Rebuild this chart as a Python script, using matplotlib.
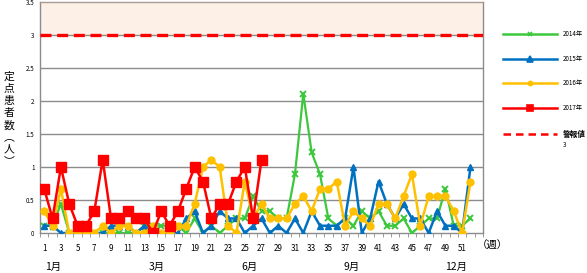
import matplotlib
matplotlib.use('Agg')
import matplotlib.pyplot as plt
from matplotlib.lines import Line2D
from matplotlib import transforms

plt.rcParams['font.family'] = ['Noto Sans CJK JP', 'DejaVu Sans']

# weekly sentinel counts (per sentinel site)
weeks = list(range(1, 53))
weeks_2017 = list(range(1, 28))

cases_2014 = [0.11, 0.11, 0.44, 0, 0, 0, 0, 0, 0, 0, 0, 0, 0.11, 0.11, 0.11, 0.11,
              0.11, 0, 0.22, 0, 0.11, 0, 0.11, 0.22, 0.22, 0.56, 0.33, 0.33, 0.22,
              0.22, 0.89, 2.11, 1.22, 0.89, 0.22, 0.11, 0.22, 0.11, 0.33, 0.22, 0.33,
              0.11, 0.11, 0.22, 0, 0.11, 0.22, 0.22, 0.67, 0.11, 0.11, 0.22]
cases_2015 = [0.11, 0.11, 0, 0, 0, 0, 0, 0, 0.11, 0.11, 0.11, 0, 0.11, 0, 0, 0,
              0, 0.22, 0.33, 0, 0.11, 0.33, 0.22, 0.22, 0, 0.11, 0.22, 0, 0.11, 0,
              0.22, 0, 0.33, 0.11, 0.11, 0.11, 0.22, 1.0, 0, 0.22, 0.78, 0.44, 0.22,
              0.44, 0.22, 0.22, 0, 0.33, 0.11, 0.11, 0, 1.0]
cases_2016 = [0.33, 0.11, 0.67, 0, 0, 0, 0, 0.11, 0, 0.11, 0.11, 0, 0, 0.11, 0, 0,
              0.11, 0.11, 0.44, 1.0, 1.11, 1.0, 0.11, 0, 0.78, 0.22, 0.44, 0.22, 0.22,
              0.22, 0.44, 0.56, 0.33, 0.67, 0.67, 0.78, 0.11, 0.33, 0.22, 0.11, 0.44,
              0.44, 0.22, 0.56, 0.89, 0.11, 0.56, 0.56, 0.56, 0.33, 0, 0.78]
cases_2017 = [0.67, 0.22, 1.0, 0.44, 0.11, 0.11, 0.33, 1.11, 0.22, 0.22, 0.33, 0.22,
              0.22, 0, 0.33, 0.11, 0.33, 0.67, 1.0, 0.78, 0.22, 0.44, 0.44, 0.78, 1.0,
              0.22, 1.11]

alert_level = 3
y_max = 3.5
n_weeks = 53

month_labels = ['1月', '3月', '6月', '9月', '12月']
month_pos = [2.1, 14.5, 25.6, 37.8, 50.3]

series_labels = ['2014年', '2015年', '2016年', '2017年']
colors = ['#3CC83C', '#0070C0', '#FFC000', '#FF0000']

W, H = 587, 273
fig = plt.figure(figsize=(W / 100, H / 100), dpi=100)
ax = fig.add_axes([40 / W, 1 - 233 / H, 443 / W, 231 / H])

# alert zone
ax.axhspan(alert_level, y_max, color='#FDF0E6', zorder=0)
for v in [0.5, 1, 1.5, 2, 2.5, 3]:
    ax.axhline(v, color='#8C8C8C', lw=1, zorder=1)

ax.plot(weeks, cases_2014, color=colors[0], lw=1.6, marker='x', ms=4,
        mew=1.4, zorder=3)
ax.plot(weeks, cases_2015, color=colors[1], lw=1.8, marker='^', ms=5,
        zorder=4)
ax.plot(weeks, cases_2016, color=colors[2], lw=1.8, marker='o', ms=5,
        zorder=5)
ax.plot(weeks_2017, cases_2017, color=colors[3], lw=1.8, marker='s', ms=7.5,
        zorder=6)
ax.axhline(alert_level, color='#FF0000', lw=2.4, ls=(0, (3.3, 1.7)), zorder=7)

ax.set_xlim(0.5, n_weeks + 0.5)
ax.set_ylim(0, y_max)
ax.set_yticks([0, 0.5, 1, 1.5, 2, 2.5, 3, 3.5])
ax.set_yticklabels(['0', '0.5', '1', '1.5', '2', '2.5', '3', '3.5'])
ax.set_xticks(list(range(1, 52, 2)))
ax.set_xticklabels([str(w) for w in range(1, 52, 2)])
ax.set_xticks([k + 0.5 for k in range(0, n_weeks + 1)], minor=True)
ax.tick_params(axis='x', which='major', length=0, pad=8, labelsize=5.8)
ax.tick_params(axis='x', which='minor', length=3, color='#8C8C8C')
ax.tick_params(axis='y', length=0, pad=4, labelsize=4.5)

for side in ['left', 'right', 'top', 'bottom']:
    ax.spines[side].set_color('#8C8C8C')
    ax.spines[side].set_linewidth(1)
ax.spines['top'].set_color('#A89C94')

trans = transforms.blended_transform_factory(ax.transData, fig.transFigure)
for lbl, pos in zip(month_labels, month_pos):
    ax.text(pos, 1 - 267 / H, lbl, transform=trans, ha='center', va='center',
            fontsize=7.5)

fig.text(492 / W, 1 - 246 / H, '（週）', ha='center', va='center', fontsize=7.5)
fig.text(9 / W, 1 - 119 / H, '定\n点\n患\n者\n数\n︵\n人\n︶', ha='center',
         va='center', fontsize=7.8, linespacing=1.25)

# legend drawn by hand on the right
leg_y = [34, 59, 83, 108]
markers = ['x', '^', 'o', 's']
msizes = [3.5, 4, 3, 5]
for y, c, m, ms, lbl in zip(leg_y, colors, markers, msizes, series_labels):
    fy = 1 - y / H
    fig.add_artist(Line2D([503 / W, 557 / W], [fy, fy], transform=fig.transFigure,
                          color=c, lw=1.8))
    fig.add_artist(Line2D([530 / W], [fy], transform=fig.transFigure, color=c,
                          marker=m, ms=ms, mew=1.2))
    fig.text(563 / W, fy, lbl, ha='left', va='center', fontsize=4.5)
fy = 1 - 134 / H
fig.add_artist(Line2D([503 / W, 557 / W], [fy, fy], transform=fig.transFigure,
                      color='#FF0000', lw=1.8, ls=(0, (3, 2))))
fig.text(563 / W, fy, '警報値', ha='left', va='center', fontsize=5.5,
         fontweight='bold')
fig.text(563 / W, 1 - 145 / H, '3', ha='left', va='center', fontsize=4.5)

fig.savefig('out.png', dpi=100, facecolor='white')
